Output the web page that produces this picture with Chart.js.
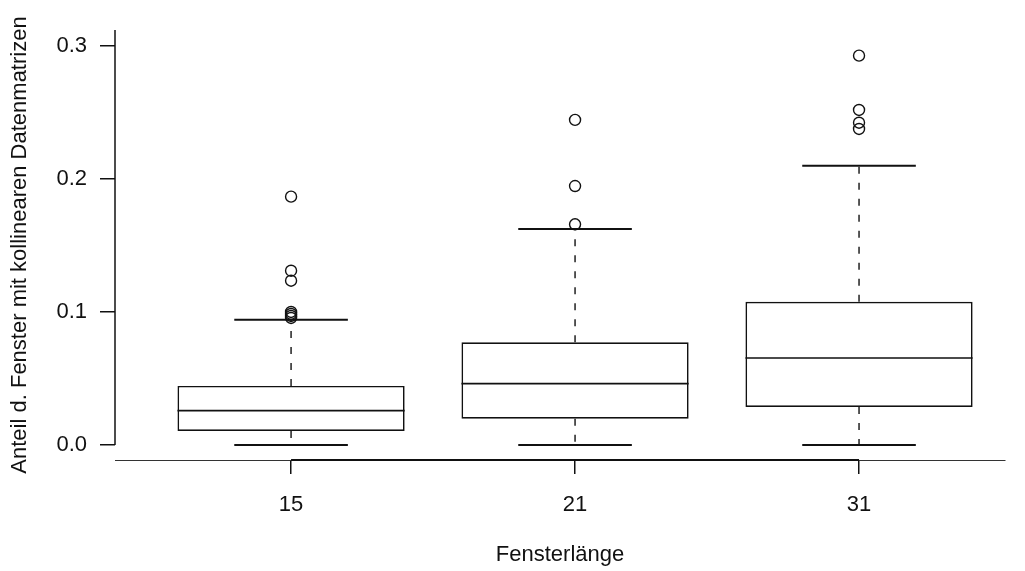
<!DOCTYPE html>
<html>
<head>
<meta charset="utf-8">
<script src="https://cdn.jsdelivr.net/npm/chart.js@4"></script>
<style>
  html, body { margin: 0; padding: 0; background: #fff; }
  #wrap { width: 1025px; height: 571px; position: relative; }
</style>
</head>
<body>
<div id="wrap"><canvas id="myChart"></canvas></div>
<script>
// window lengths on the x axis
const categories = ['15', '21', '31']
// box statistics per window length
const lowerWhisker = [0.0, 0.0, 0.0]
const q1 = [0.0105, 0.0198, 0.0286]
const median = [0.0258, 0.0461, 0.0654]
const q3 = [0.0444, 0.0772, 0.1077]
const upperWhisker = [0.0942, 0.1624, 0.2100]
// outliers per window length
const outliers = [
  [0.1867, 0.1310, 0.1235, 0.1000, 0.0985, 0.0970, 0.0955],
  [0.2444, 0.1947, 0.1659],
  [0.2927, 0.2519, 0.2423, 0.2376]
]
const yTicks = [0.0, 0.1, 0.2, 0.3]

const FONT = { family: '"Liberation Sans", Arial, sans-serif', size: 22 }
const INK = '#111'
const BOX_HALF = 0.4   // boxwex 0.8
const CAP_HALF = 0.2

// helper: list of horizontal/vertical segments separated by gaps
const segments = (pairs) => {
  const out = []
  pairs.forEach(([a, b]) => {
    out.push(a, b, { x: b.x, y: null })
  })
  return out
}

const medianLines = segments(categories.map((c, i) => [
  { x: i + 1 - BOX_HALF, y: median[i] }, { x: i + 1 + BOX_HALF, y: median[i] }
]))
const whiskerLines = segments(categories.flatMap((c, i) => [
  [{ x: i + 1, y: q3[i] }, { x: i + 1, y: upperWhisker[i] }],
  [{ x: i + 1, y: q1[i] }, { x: i + 1, y: lowerWhisker[i] }]
]))
const capLines = segments(categories.flatMap((c, i) => [
  [{ x: i + 1 - CAP_HALF, y: upperWhisker[i] }, { x: i + 1 + CAP_HALF, y: upperWhisker[i] }],
  [{ x: i + 1 - CAP_HALF, y: lowerWhisker[i] }, { x: i + 1 + CAP_HALF, y: lowerWhisker[i] }]
]))
const outlierPoints = outliers.flatMap((vals, i) => vals.map(v => ({ x: i + 1, y: v })))

// R-style axis lines: y axis only from 0 up, x axis line between first and last tick
const axisLines = {
  id: 'axisLines',
  afterDraw(chart) {
    const { ctx, chartArea, scales } = chart
    ctx.save()
    ctx.strokeStyle = INK
    ctx.lineWidth = 1.5
    ctx.beginPath()
    ctx.moveTo(chartArea.left, scales.y.getPixelForValue(0))
    ctx.lineTo(chartArea.left, chartArea.top)
    ctx.stroke()
    ctx.lineWidth = 2
    ctx.beginPath()
    ctx.moveTo(scales.x.getPixelForValue(1), chartArea.bottom)
    ctx.lineTo(scales.x.getPixelForValue(categories.length), chartArea.bottom)
    ctx.stroke()
    ctx.restore()
  }
}

const ctx = document.getElementById('myChart').getContext('2d')
new Chart(ctx, {
  type: 'bar',
  data: {
    datasets: [
      {
        type: 'bar',
        data: categories.map((c, i) => ({ x: i + 1, y: [q1[i], q3[i]] })),
        backgroundColor: '#fff',
        borderColor: INK,
        borderWidth: 1.7,
        borderSkipped: false,
        categoryPercentage: 0.8,
        barPercentage: 1,
        order: 2
      },
      {
        type: 'line',
        data: whiskerLines,
        borderColor: INK,
        borderWidth: 1.4,
        borderDash: [7, 9],
        pointRadius: 0,
        spanGaps: false,
        order: 3
      },
      {
        type: 'line',
        data: capLines,
        borderColor: INK,
        borderWidth: 2,
        pointRadius: 0,
        spanGaps: false,
        order: 1
      },
      {
        type: 'line',
        data: medianLines,
        borderColor: INK,
        borderWidth: 1.7,
        pointRadius: 0,
        spanGaps: false,
        order: 1
      },
      {
        type: 'scatter',
        data: outlierPoints,
        pointStyle: 'circle',
        pointRadius: 5.5,
        backgroundColor: 'rgba(0,0,0,0)',
        borderColor: INK,
        borderWidth: 1.4,
        order: 0
      }
    ]
  },
  options: {
    responsive: true,
    maintainAspectRatio: false,
    animation: false,
    layout: { padding: { top: 30, right: 20, left: 0, bottom: 0 } },
    plugins: {
      legend: { display: false },
      tooltip: { enabled: false }
    },
    scales: {
      x: {
        type: 'linear',
        min: 0.38,
        max: 3.514,
        offset: false,
        afterFit: (s) => { s.height = 111 },
        afterBuildTicks: (s) => { s.ticks = categories.map((c, i) => ({ value: i + 1 })) },
        ticks: {
          font: FONT,
          color: INK,
          padding: 18,
          maxRotation: 0,
          callback: (v) => categories[v - 1] ?? ''
        },
        grid: { display: true, drawOnChartArea: false, drawTicks: true, tickLength: 14, color: INK, lineWidth: 1.5, offset: false },
        border: { display: true, color: '#333', width: 1 },
        title: { display: true, text: 'Fensterlänge', font: FONT, color: INK, padding: { top: 0, bottom: 3 } }
      },
      y: {
        type: 'linear',
        min: -0.0113,
        max: 0.312,
        afterFit: (s) => { s.width = 115 },
        afterBuildTicks: (s) => { s.ticks = yTicks.map(v => ({ value: v })) },
        ticks: {
          font: FONT,
          color: INK,
          padding: 13,
          callback: (v) => v.toFixed(1)
        },
        grid: { display: true, drawOnChartArea: false, drawTicks: true, tickLength: 15, color: INK, lineWidth: 1.5 },
        border: { display: false },
        title: { display: true, text: 'Anteil d. Fenster mit kollinearen Datenmatrizen', font: FONT, color: INK, padding: { top: 7, bottom: 0 } }
      }
    }
  },
  plugins: [axisLines]
})
</script>
</body>
</html>
